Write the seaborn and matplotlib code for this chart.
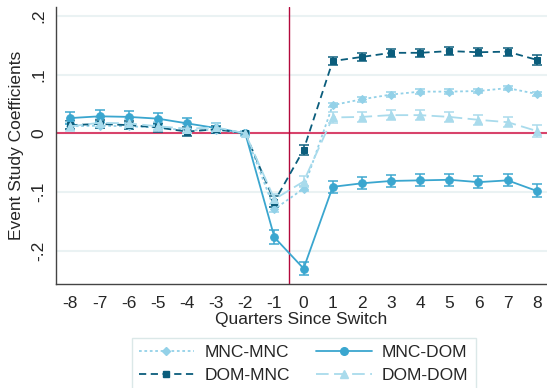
import numpy as np
import pandas as pd
import seaborn as sns
import matplotlib.pyplot as plt
from matplotlib.lines import Line2D

# quarters relative to the switch
quarters = list(range(-8, 9))

# point estimates
mnc_mnc = [0.012, 0.013, 0.012, 0.010, 0.005, 0.006, 0.000, -0.129, -0.094,
           0.048, 0.058, 0.066, 0.071, 0.071, 0.072, 0.077, 0.067]
mnc_dom = [0.026, 0.029, 0.028, 0.025, 0.017, 0.009, 0.000, -0.177, -0.230,
           -0.091, -0.085, -0.081, -0.080, -0.079, -0.083, -0.080, -0.098]
dom_mnc = [0.014, 0.016, 0.014, 0.010, 0.003, 0.007, 0.000, -0.116, -0.028,
           0.123, 0.130, 0.137, 0.137, 0.140, 0.138, 0.139, 0.125]
dom_dom = [0.012, 0.018, 0.017, 0.012, 0.008, 0.010, 0.000, -0.112, -0.082,
           0.027, 0.028, 0.031, 0.031, 0.028, 0.023, 0.019, 0.004]

# half-widths of the confidence intervals
ci_mnc_mnc = [0.004] * 17
ci_mnc_dom = [0.010, 0.010, 0.010, 0.009, 0.009, 0.008, 0.002, 0.012, 0.011,
              0.010, 0.010, 0.010, 0.010, 0.010, 0.010, 0.010, 0.011]
ci_dom_mnc = [0.007, 0.007, 0.007, 0.007, 0.007, 0.006, 0.002, 0.009, 0.008,
              0.007, 0.007, 0.007, 0.007, 0.007, 0.007, 0.007, 0.008]
ci_dom_dom = [0.008, 0.008, 0.008, 0.008, 0.008, 0.007, 0.002, 0.009, 0.009,
              0.009, 0.009, 0.009, 0.009, 0.009, 0.009, 0.009, 0.010]

series = [
    # label, values, ci, color, dashes, marker, size
    ("MNC-MNC", mnc_mnc, ci_mnc_mnc, "#93d1e8", (1.5, 1.5), "D", 4.5),
    ("MNC-DOM", mnc_dom, ci_mnc_dom, "#3aa6cf", (None, None), "o", 5.5),
    ("DOM-MNC", dom_mnc, ci_dom_mnc, "#0b5d7c", (4, 2.5), "s", 5),
    ("DOM-DOM", dom_dom, ci_dom_dom, "#a9dbec", (7, 3), "^", 5.5),
]

sns.set_style("white")
plt.rcParams['font.family'] = ['Liberation Sans', 'DejaVu Sans']
plt.rcParams['axes.unicode_minus'] = False
fs = 12.5

fig = plt.figure(figsize=(5.47, 3.88), dpi=100)
ax = fig.add_axes([0.102, 0.267, 0.898, 0.715])

for y in [-0.2, -0.1, 0.1, 0.2]:
    ax.axhline(y, color="#eaf2f3", lw=1.5, zorder=0)
ax.axhline(0, color="#d8436b", lw=1.5, zorder=1)
ax.axvline(-0.5, color="#b3093c", lw=1.0, zorder=1)

handles = {}
for label, vals, ci, col, dash, mk, ms in series:
    df = pd.DataFrame({"q": quarters, "b": vals})
    ax.errorbar(quarters, vals, yerr=ci, fmt="none", ecolor=col, elinewidth=1.2,
                capsize=3.5, capthick=1.2, zorder=2, alpha=0.9)
    ls = "-" if dash[0] is None else (0, dash)
    sns.lineplot(data=df, x="q", y="b", ax=ax, color=col, lw=1.3, linestyle=ls,
                 marker=mk, markersize=ms, markeredgecolor=col, zorder=3)
    handles[label] = Line2D([0], [0], color=col, lw=1.3, linestyle=ls, marker=mk,
                            markersize=ms, markeredgecolor=col)

ax.set_xlim(-8.5, 8.35)
ax.set_ylim(-0.257, 0.215)
ax.set_xticks(quarters)
ax.set_yticks([-0.2, -0.1, 0, 0.1, 0.2])
ax.set_yticklabels(["-.2", "-.1", "0", ".1", ".2"], rotation=90, va="center")
ax.tick_params(axis="both", labelsize=fs, length=5, width=1, color="#555555",
               direction="out", pad=3)
ax.tick_params(axis="y", length=4)
for s in ["top", "right"]:
    ax.spines[s].set_visible(False)
for s in ["left", "bottom"]:
    ax.spines[s].set_color("#444444")
    ax.spines[s].set_linewidth(1.0)
ax.set_xlabel("Quarters Since Switch", fontsize=fs, labelpad=1)
ax.set_ylabel("Event Study Coefficients", fontsize=fs, labelpad=5)

# column-wise fill: first column MNC-MNC / DOM-MNC, second MNC-DOM / DOM-DOM
order = ["MNC-MNC", "DOM-MNC", "MNC-DOM", "DOM-DOM"]
leg = fig.legend([handles[k] for k in order], order, loc="upper center",
                 bbox_to_anchor=(0.555, 0.129), ncol=2, fontsize=fs,
                 numpoints=1, handlelength=3.2, columnspacing=1.5,
                 handletextpad=0.6, labelspacing=0.45, borderpad=0.4,
                 borderaxespad=0, fancybox=False, framealpha=1)
leg.get_frame().set_edgecolor("#dbe8e8")
leg.get_frame().set_linewidth(1.0)

fig.savefig("out.png", dpi=100)
